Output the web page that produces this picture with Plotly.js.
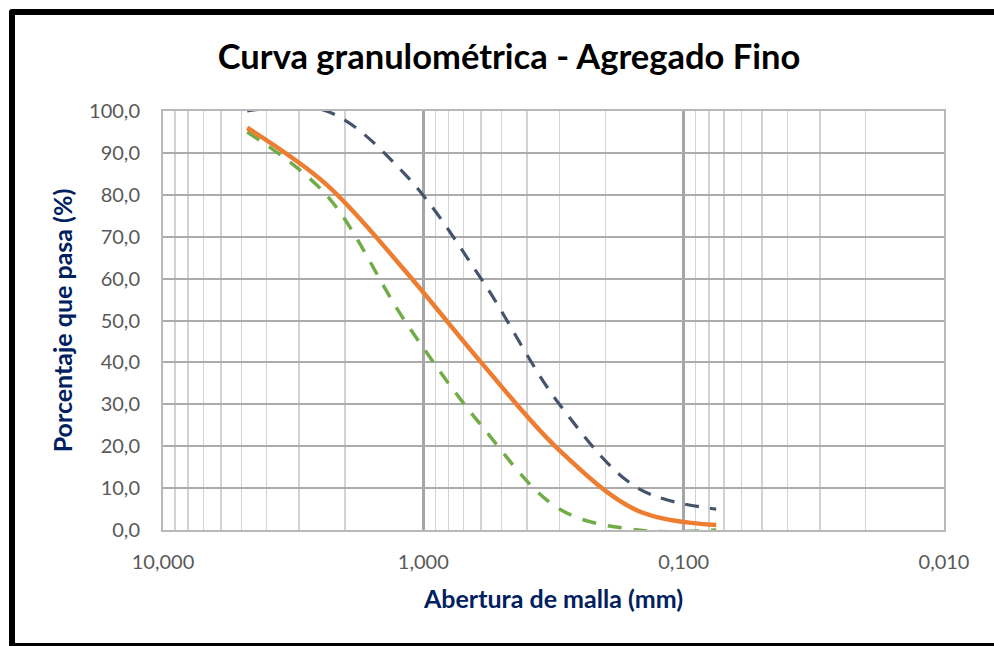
<!DOCTYPE html>
<html>
<head>
<meta charset="utf-8">
<script src="https://cdn.plot.ly/plotly-3.0.1.min.js"></script>
<style>
  html, body { margin: 0; padding: 0; background: #ffffff; overflow: hidden; }
  #wrap { position: relative; width: 994px; height: 646px; }
  #grafico { position: absolute; left: 0; top: 0; width: 994px; height: 646px; }
  #marco {
    position: absolute; left: 9px; top: 9px; width: 1000px; height: 640px;
    box-sizing: border-box; border: 6px solid #000; border-radius: 3px;
    pointer-events: none;
  }
</style>
</head>
<body>
<div id="wrap">
  <div id="grafico"></div>
  <div id="marco"></div>
</div>
<script>
// Aberturas de tamiz (mm) y porcentajes que pasan
const aberturas = [4.75, 2.36, 1.18, 0.60, 0.30, 0.15, 0.075];
const pasaMuestra = [96.0, 82.5, 62.0, 40.0, 19.0, 4.6, 1.2];
const limiteSuperior = [100, 100, 85, 60, 30, 10, 5];
const limiteInferior = [95, 80, 50, 25, 5, 0, 0];

// Marcas del eje de abertura (escala logarítmica invertida)
const marcasX = [10, 1, 0.1, 0.01];
const etiquetasX = ['10,000', '1,000', '0,100', '0,010'];

const fuente = 'Lato, "Open Sans", sans-serif';

const trazas = [
  {
    x: aberturas, y: limiteSuperior, type: 'scatter', mode: 'lines',
    name: 'Límite superior',
    line: { color: '#44546A', width: 3.2, dash: '14px,11px', shape: 'spline', smoothing: 1 }
  },
  {
    x: aberturas, y: limiteInferior, type: 'scatter', mode: 'lines',
    name: 'Límite inferior',
    line: { color: '#70AD47', width: 3.5, dash: '14px,12px', shape: 'spline', smoothing: 1 }
  },
  {
    x: aberturas, y: pasaMuestra, type: 'scatter', mode: 'lines',
    name: 'Muestra',
    line: { color: '#ED7D31', width: 4.5, shape: 'spline', smoothing: 1 }
  }
];

const layout = {
  width: 994, height: 646,
  paper_bgcolor: '#ffffff', plot_bgcolor: '#ffffff',
  separators: ',.',
  showlegend: false,
  margin: { l: 163, r: 50, t: 111, b: 116, pad: 0 },
  font: { family: fuente, color: '#595959', size: 20 },
  title: {
    text: 'Curva granulométrica - Agregado Fino',
    font: { family: fuente, size: 34.5, weight: 'bold', color: '#000000' },
    xref: 'container', x: 509 / 994, xanchor: 'center',
    yref: 'container', y: 1 - 57 / 646, yanchor: 'middle'
  },
  xaxis: {
    type: 'log',
    range: [1, -2],
    tickmode: 'array', tickvals: marcasX, ticktext: etiquetasX,
    ticks: '', ticklabelstandoff: 13,
    tickfont: { family: fuente, size: 20, color: '#595959' },
    showgrid: true, gridcolor: '#a6a6a6', gridwidth: 2.5,
    minor: { dtick: 'D1', showgrid: true, gridcolor: '#d2d2d2', gridwidth: 1.5, ticks: '' },
    showline: true, mirror: true, linecolor: '#b8b8b8', linewidth: 2,
    zeroline: false,
    title: {
      text: 'Abertura de malla (mm)',
      font: { family: fuente, size: 25, weight: 'bold', color: '#002060' },
      standoff: 18
    }
  },
  yaxis: {
    range: [0, 100],
    dtick: 10, tick0: 0, tickformat: '.1f',
    ticks: '', ticklabelstandoff: 17,
    tickfont: { family: fuente, size: 20, color: '#595959' },
    showgrid: true, gridcolor: '#ababab', gridwidth: 2,
    showline: true, mirror: true, linecolor: '#b8b8b8', linewidth: 2,
    zeroline: false,
    title: {
      text: 'Porcentaje que pasa (%)',
      font: { family: fuente, size: 25, weight: 'bold', color: '#002060' },
      standoff: 9
    }
  }
};

Plotly.newPlot('grafico', trazas, layout, { displayModeBar: false, staticPlot: true });
</script>
</body>
</html>
